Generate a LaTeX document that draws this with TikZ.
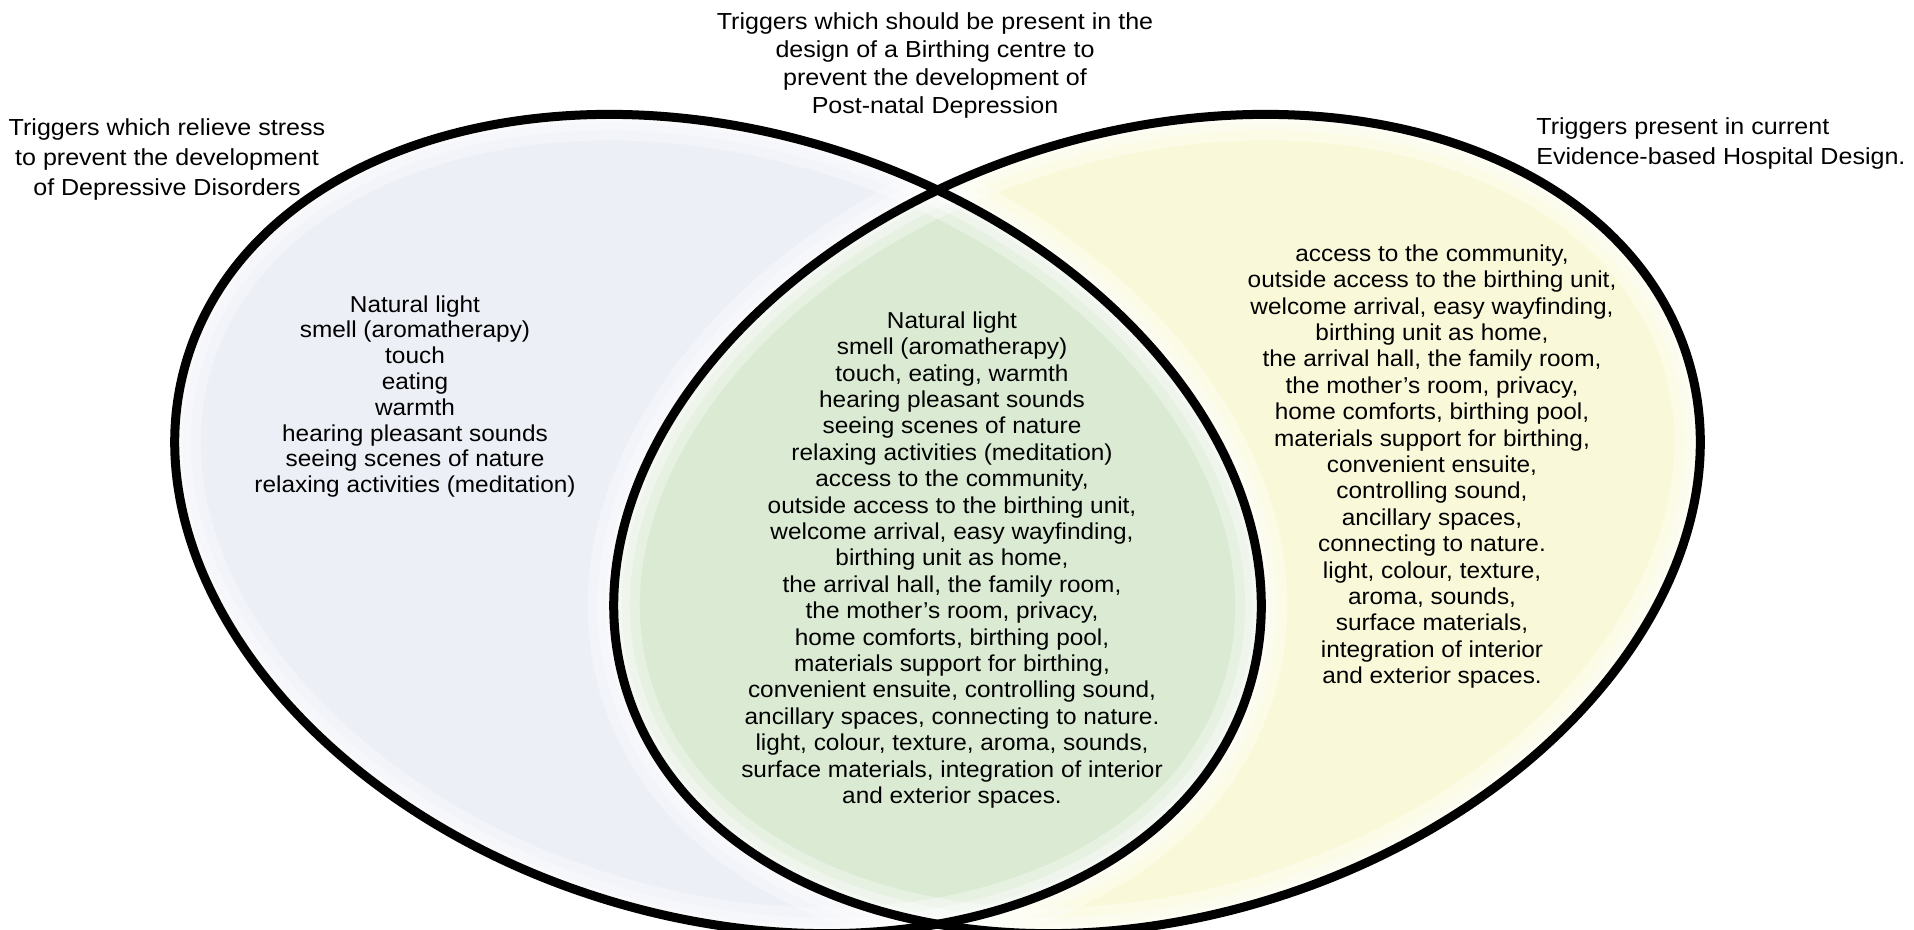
\documentclass[tikz,border=0pt]{standalone}
\usepackage{fontspec}
\setmainfont{Liberation Sans}
\newfontfamily\wideface[FakeStretch=1.08]{Liberation Sans}
\newfontfamily\bodyface[FakeStretch=1.06]{Liberation Sans}
\definecolor{leftfill}{RGB}{236,239,246}
\definecolor{rightfill}{RGB}{249,249,218}
\definecolor{lensfill}{RGB}{219,235,211}
\tikzset{
  body/.style={align=center, inner sep=0pt, font=\bodyface\fontsize{11.5}{13.2}\selectfont},
  sidetitle/.style={align=center, inner sep=0pt, font=\wideface\fontsize{11.6}{15}\selectfont},
  toptitle/.style={align=center, inner sep=0pt, font=\wideface\fontsize{11.6}{13.9}\selectfont},
  rim/.style={draw=white, draw opacity=0.35, fill=none},
  outline/.style={draw=black, line width=4.5pt, fill=none},
  lefttr/.style={shift={(718,524)}, rotate=-17.5},
  righttr/.style={shift={(1157,524)}, rotate=17.5},
}
\begin{document}
\begin{tikzpicture}[x=0.5pt,y=-0.5pt]
\useasboundingbox (0,0) rectangle (1914,930);
\clip (0,0) rectangle (1914,930);
% fills
\fill[leftfill, lefttr] (0,0) ellipse [x radius=278pt, y radius=196pt];
\fill[rightfill, righttr] (0,0) ellipse [x radius=278pt, y radius=196pt];
\begin{scope}
  \clip[lefttr] (0,0) ellipse [x radius=278pt, y radius=196pt];
  \fill[lensfill, righttr] (0,0) ellipse [x radius=278pt, y radius=196pt];
\end{scope}
% soft rims
\foreach \w in {26pt,16pt,8pt}{
  \draw[rim, line width=\w, lefttr] (0,0) ellipse [x radius=278pt, y radius=196pt];
  \draw[rim, line width=\w, righttr] (0,0) ellipse [x radius=278pt, y radius=196pt];
}
% outlines
\draw[outline, lefttr] (0,0) ellipse [x radius=278pt, y radius=196pt];
\draw[outline, righttr] (0,0) ellipse [x radius=278pt, y radius=196pt];
% titles
\node[toptitle] (ttop) at (935,65.5) {Triggers which should be present in the\\design of a Birthing centre to\\prevent the development of\\Post-natal Depression};
\node[sidetitle] (tleft) at (167,159.5) {Triggers which relieve stress\\to prevent the development\\of Depressive Disorders};
\node[sidetitle, align=left, anchor=west] (tright) at (1536,143.5) {Triggers present in current\\Evidence-based Hospital Design.};
% body texts
\node[body, font=\bodyface\fontsize{11.5}{12.9}\selectfont] (bleft) at (415,396.5) {Natural light\\smell (aromatherapy)\\touch\\eating\\warmth\\hearing pleasant sounds\\seeing scenes of nature\\relaxing activities (meditation)};
\node[body] (bmid) at (952,560) {Natural light\\smell (aromatherapy)\\touch, eating, warmth\\hearing pleasant sounds\\seeing scenes of nature\\relaxing activities (meditation)\\access to the community,\\outside access to the birthing unit,\\welcome arrival, easy wayfinding,\\birthing unit as home,\\the arrival hall, the family room,\\the mother’s room, privacy,\\home comforts, birthing pool,\\materials support for birthing,\\convenient ensuite, controlling sound,\\ancillary spaces, connecting to nature.\\light, colour, texture, aroma, sounds,\\surface materials, integration of interior\\and exterior spaces.};
\node[body] (bright) at (1432,466.5) {access to the community,\\outside access to the birthing unit,\\welcome arrival, easy wayfinding,\\birthing unit as home,\\the arrival hall, the family room,\\the mother’s room, privacy,\\home comforts, birthing pool,\\materials support for birthing,\\convenient ensuite,\\controlling sound,\\ancillary spaces,\\connecting to nature.\\light, colour, texture,\\aroma, sounds,\\surface materials,\\integration of interior\\and exterior spaces.};
\end{tikzpicture}
\end{document}
